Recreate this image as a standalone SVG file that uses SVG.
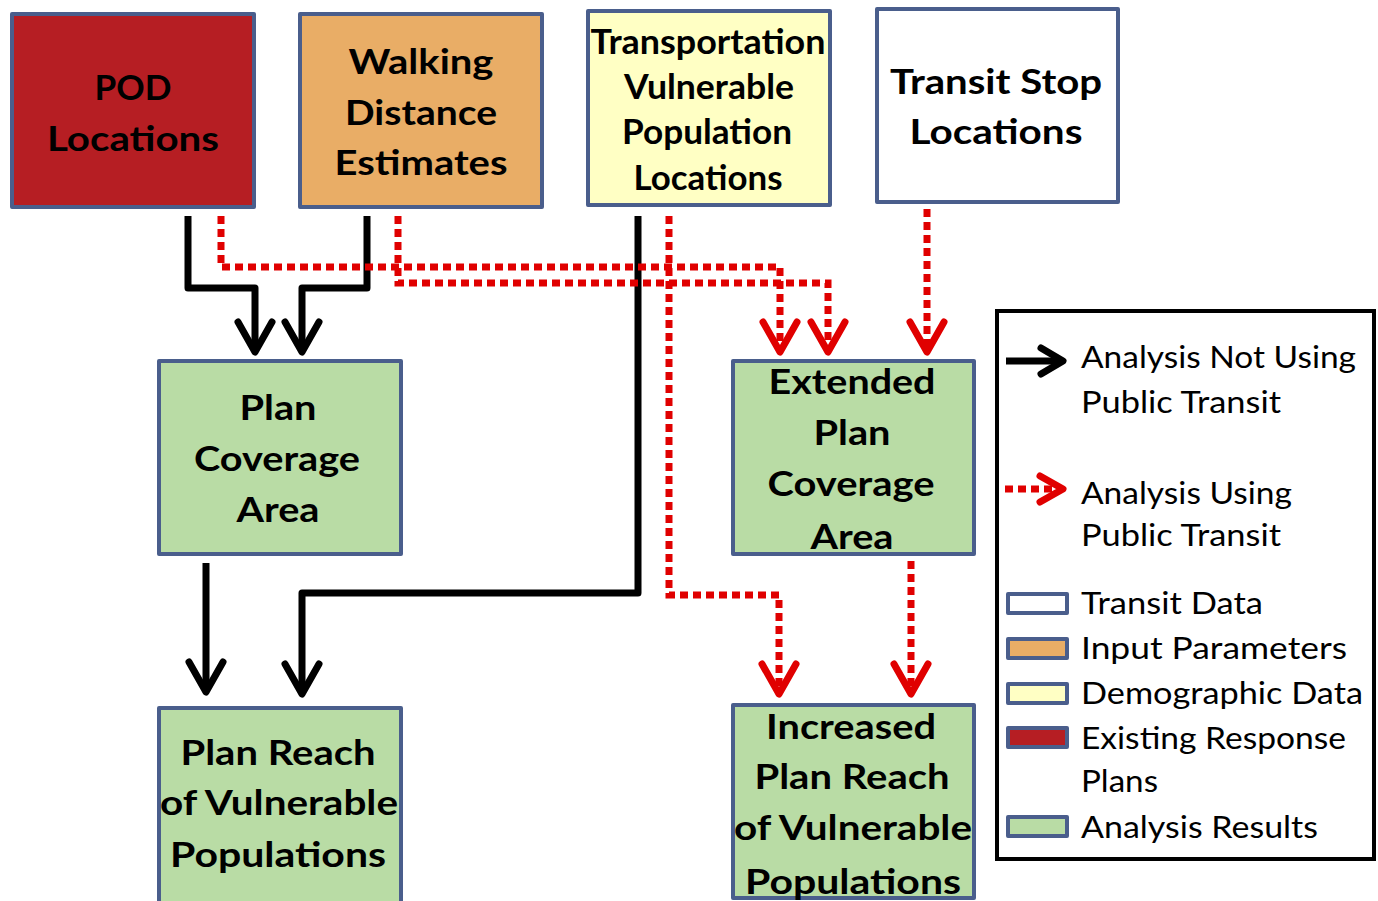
<svg xmlns="http://www.w3.org/2000/svg" width="1378" height="901" viewBox="0 0 1378 901">
<style>
.box{stroke:#4A5E8C;stroke-width:4;stroke-linejoin:round}
.t{font-family:Lato,"Liberation Sans",sans-serif;font-weight:bold;font-size:34px;fill:#000;text-anchor:middle}
.l{font-family:Lato,"Liberation Sans",sans-serif;font-size:30px;fill:#000}
.blk{fill:none;stroke:#000;stroke-width:7;stroke-linejoin:round}
.red{fill:none;stroke:#E00000;stroke-width:7;stroke-dasharray:8 5}
.hb{fill:none;stroke:#000;stroke-width:7;stroke-linecap:round;stroke-linejoin:round}
.hr{fill:none;stroke:#E00000;stroke-width:7;stroke-linecap:round;stroke-linejoin:round}
</style>
<defs>
<marker id="mb" markerUnits="userSpaceOnUse" viewBox="0 -20 36 40" markerWidth="36" markerHeight="40" refX="32" refY="0" orient="auto" overflow="visible">
<path class="hb" d="M2,-17 L32,0 L2,17"/>
</marker>
<marker id="mr" markerUnits="userSpaceOnUse" viewBox="0 -20 36 40" markerWidth="36" markerHeight="40" refX="32" refY="0" orient="auto" overflow="visible">
<path class="hr" d="M2,-17 L32,0 L2,17"/>
</marker>
</defs>
<rect width="1378" height="901" fill="#fff"/>

<g id="connectors">
<path class="blk" d="M188,216 V288 H255 V352" marker-end="url(#mb)"/>
<path class="blk" d="M367,216 V288 H302 V352" marker-end="url(#mb)"/>
<path class="blk" d="M638,216 V593 H302 V694" marker-end="url(#mb)"/>
<path class="blk" d="M206,563 V692" marker-end="url(#mb)"/>
<path class="red" d="M221,216 V267 H780 V352" marker-end="url(#mr)"/>
<path class="red" d="M398,216 V283 H828 V352" marker-end="url(#mr)"/>
<path class="red" d="M669,216 V595 H779 V694" marker-end="url(#mr)"/>
<path class="red" d="M927,209 V352" marker-end="url(#mr)"/>
<path class="red" d="M911,561 V694" marker-end="url(#mr)"/>
</g>

<g id="pod">
<rect class="box" x="12" y="14" width="242" height="193" fill="#B61E23"/>
<text class="t" x="133" y="100" textLength="77" lengthAdjust="spacingAndGlyphs">POD</text>
<text class="t" x="133" y="151" textLength="172" lengthAdjust="spacingAndGlyphs">Locations</text>
</g>
<g id="walking">
<rect class="box" x="300" y="14" width="242" height="193" fill="#E9AD66"/>
<text class="t" x="421" y="74" textLength="145" lengthAdjust="spacingAndGlyphs">Walking</text>
<text class="t" x="421" y="125" textLength="152" lengthAdjust="spacingAndGlyphs">Distance</text>
<text class="t" x="421" y="175" textLength="173" lengthAdjust="spacingAndGlyphs">Estimates</text>
</g>
<g id="transportation">
<rect class="box" x="588" y="11" width="242" height="194" fill="#FFFFC4"/>
<text class="t" x="708" y="54" font-size="31" textLength="235" lengthAdjust="spacingAndGlyphs">Transportation</text>
<text class="t" x="709" y="99" font-size="31" textLength="170" lengthAdjust="spacingAndGlyphs">Vulnerable</text>
<text class="t" x="707" y="144" font-size="31" textLength="170" lengthAdjust="spacingAndGlyphs">Population</text>
<text class="t" x="708" y="190" font-size="31" textLength="149" lengthAdjust="spacingAndGlyphs">Locations</text>
</g>
<g id="transit-stop">
<rect class="box" x="877" y="9" width="241" height="193" fill="#FFFFFF"/>
<text class="t" x="996" y="94" textLength="212" lengthAdjust="spacingAndGlyphs">Transit Stop</text>
<text class="t" x="996" y="144" textLength="173" lengthAdjust="spacingAndGlyphs">Locations</text>
</g>
<g id="plan-coverage">
<rect class="box" x="159" y="361" width="242" height="193" fill="#B9DCA5"/>
<text class="t" x="278" y="420" textLength="77" lengthAdjust="spacingAndGlyphs">Plan</text>
<text class="t" x="277" y="471" textLength="166" lengthAdjust="spacingAndGlyphs">Coverage</text>
<text class="t" x="278" y="522" textLength="83" lengthAdjust="spacingAndGlyphs">Area</text>
</g>
<g id="extended-coverage">
<rect class="box" x="733" y="361" width="241" height="193" fill="#B9DCA5"/>
<text class="t" x="852" y="394" textLength="167" lengthAdjust="spacingAndGlyphs">Extended</text>
<text class="t" x="852" y="445" textLength="77" lengthAdjust="spacingAndGlyphs">Plan</text>
<text class="t" x="851" y="496" textLength="167" lengthAdjust="spacingAndGlyphs">Coverage</text>
<text class="t" x="852" y="549" textLength="83" lengthAdjust="spacingAndGlyphs">Area</text>
</g>
<g id="plan-reach">
<rect class="box" x="159" y="708" width="242" height="197" fill="#B9DCA5"/>
<text class="t" x="278" y="765" textLength="195" lengthAdjust="spacingAndGlyphs">Plan Reach</text>
<text class="t" x="279" y="815" textLength="238" lengthAdjust="spacingAndGlyphs">of Vulnerable</text>
<text class="t" x="278" y="867" textLength="216" lengthAdjust="spacingAndGlyphs">Populations</text>
</g>
<g id="increased-reach">
<rect class="box" x="733" y="705" width="241" height="193" fill="#B9DCA5"/>
<text class="t" x="851" y="739" textLength="170" lengthAdjust="spacingAndGlyphs">Increased</text>
<text class="t" x="852" y="789" textLength="195" lengthAdjust="spacingAndGlyphs">Plan Reach</text>
<text class="t" x="853" y="840" textLength="238" lengthAdjust="spacingAndGlyphs">of Vulnerable</text>
<text class="t" x="853" y="894" textLength="216" lengthAdjust="spacingAndGlyphs">Populations</text>
</g>

<g id="legend">
<rect x="997" y="311" width="377" height="548" fill="#fff" stroke="#000" stroke-width="4"/>
<path class="blk" d="M1006,361 H1060"/>
<path class="hb" d="M1041,348 L1063,361 L1041,374"/>
<text class="l" x="1081" y="368" textLength="275" lengthAdjust="spacingAndGlyphs">Analysis  Not Using</text>
<text class="l" x="1081" y="413" textLength="200" lengthAdjust="spacingAndGlyphs">Public  Transit</text>
<path class="red" d="M1005,489 H1056"/>
<path class="hr" d="M1040,476 L1063,489 L1040,502"/>
<text class="l" x="1081" y="504" textLength="211" lengthAdjust="spacingAndGlyphs">Analysis Using</text>
<text class="l" x="1081" y="546" textLength="200" lengthAdjust="spacingAndGlyphs">Public Transit</text>
<rect class="box" x="1008" y="594" width="59" height="19" fill="#FFFFFF"/>
<text class="l" x="1081" y="614" textLength="182" lengthAdjust="spacingAndGlyphs">Transit Data</text>
<rect class="box" x="1008" y="639" width="59" height="19" fill="#E9AD66"/>
<text class="l" x="1081" y="659" textLength="266" lengthAdjust="spacingAndGlyphs">Input Parameters</text>
<rect class="box" x="1008" y="684" width="59" height="19" fill="#FFFFC4"/>
<text class="l" x="1081" y="704" textLength="282" lengthAdjust="spacingAndGlyphs">Demographic Data</text>
<rect class="box" x="1008" y="728" width="59" height="19" fill="#B61E23"/>
<text class="l" x="1081" y="749" textLength="265" lengthAdjust="spacingAndGlyphs">Existing Response</text>
<text class="l" x="1081" y="792" textLength="77" lengthAdjust="spacingAndGlyphs">Plans</text>
<rect class="box" x="1008" y="817" width="59" height="19" fill="#B9DCA5"/>
<text class="l" x="1081" y="838" textLength="237" lengthAdjust="spacingAndGlyphs">Analysis Results</text>
</g>
</svg>
